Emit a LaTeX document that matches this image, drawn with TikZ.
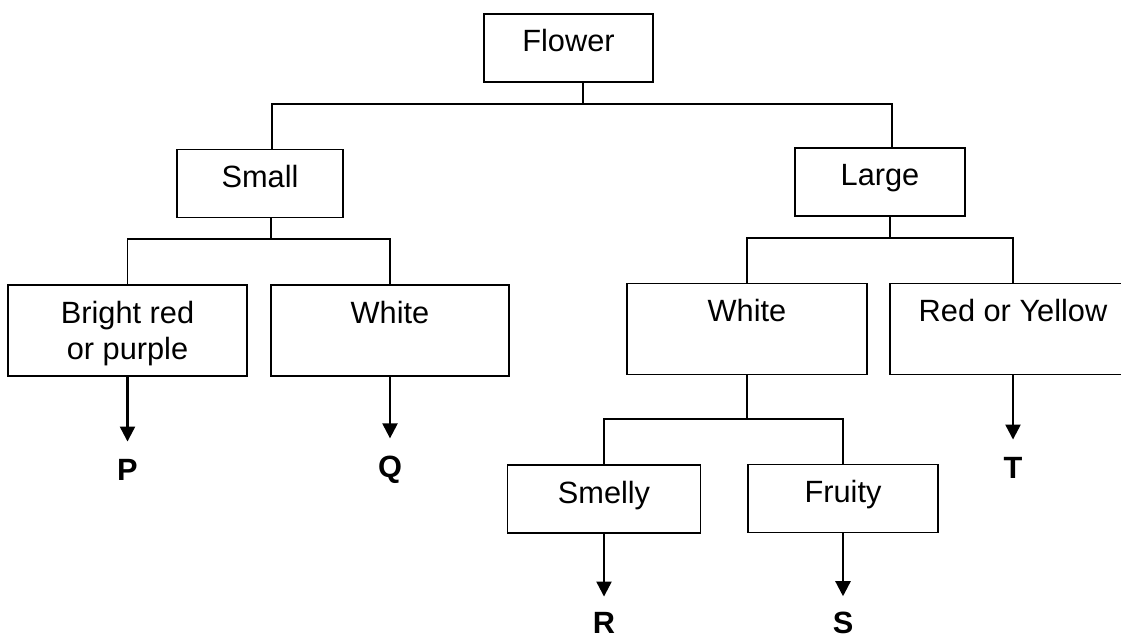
\documentclass[tikz,border=0pt]{standalone}
\usepackage{fontspec}
\setmainfont{Liberation Sans}
\usetikzlibrary{arrows.meta}

\tikzset{
  box/.style={draw, line width=1pt, inner sep=0pt, minimum width=#1,
    text height=.76cm, text depth=.6cm, align=center},
  tallbox/.style={box=#1, text depth=1.06cm},
  letter/.style={font=\fontsize{17.5}{21}\selectfont\bfseries,
    inner xsep=0pt, inner ysep=.34cm},
  arr/.style={-{Triangle[width=.3cm,length=.3cm]}, line width=1.3pt},
}

\begin{document}
\begin{tikzpicture}[x=0.02cm, y=-0.02cm, line width=1pt,
  font=\fontsize{17.5}{21}\selectfont]
  \useasboundingbox (0,0) rectangle (1121,641);

  \node[box=3.38cm] (flower) at (568.5,48) {Flower};
  \node[box=3.32cm] (small) at (260,183.5) {Small};
  \node[box=3.4cm] (large) at (880,182) {Large};
  \node[tallbox=4.78cm, text height=1.5cm, text depth=.32cm] (bright)
    at (127.5,330.5) {Bright red\\or purple};
  \node[tallbox=4.76cm] (whiteA) at (390,330.5) {White};
  \node[tallbox=4.8cm] (whiteB) at (747,329) {White};
  \node[tallbox=4.92cm] (redyellow) at (1013,329) {Red or Yellow};
  \node[box=3.86cm] (smelly) at (604,499) {Smelly};
  \node[box=3.8cm] (fruity) at (843,498.5) {Fruity};

  \node[letter] (p) at (127.5,470) {P};
  \node[letter] (q) at (390,470) {Q};
  \node[letter] (t) at (1013,468) {T};
  \node[letter, inner ysep=.3cm] (r) at (604,623) {R};
  \node[letter, inner ysep=.3cm] (s) at (843,623) {S};

  % size
  \draw ([xshift=.29cm]flower.south) -- ++(0,21) coordinate (fj);
  \draw ([xshift=.24cm]small.north) |- (fj) -| ([xshift=.24cm]large.north);
  % colour
  \draw ([xshift=.22cm]small.south) -- ++(0,21) coordinate (sj);
  \draw (bright.north) |- (sj) -| (whiteA.north);
  \draw ([xshift=.2cm]large.south) -- ++(0,21) coordinate (lj);
  \draw (whiteB.north) |- (lj) -| (redyellow.north);
  % smell
  \draw (whiteB.south) -- ++(0,44) coordinate (wj);
  \draw (smelly.north) |- (wj) -| (fruity.north);

  \draw[arr] (bright) -- (p);
  \draw[arr] (whiteA) -- (q);
  \draw[arr] (redyellow) -- (t);
  \draw[arr] (smelly) -- (r);
  \draw[arr] (fruity) -- (s);
\end{tikzpicture}
\end{document}
